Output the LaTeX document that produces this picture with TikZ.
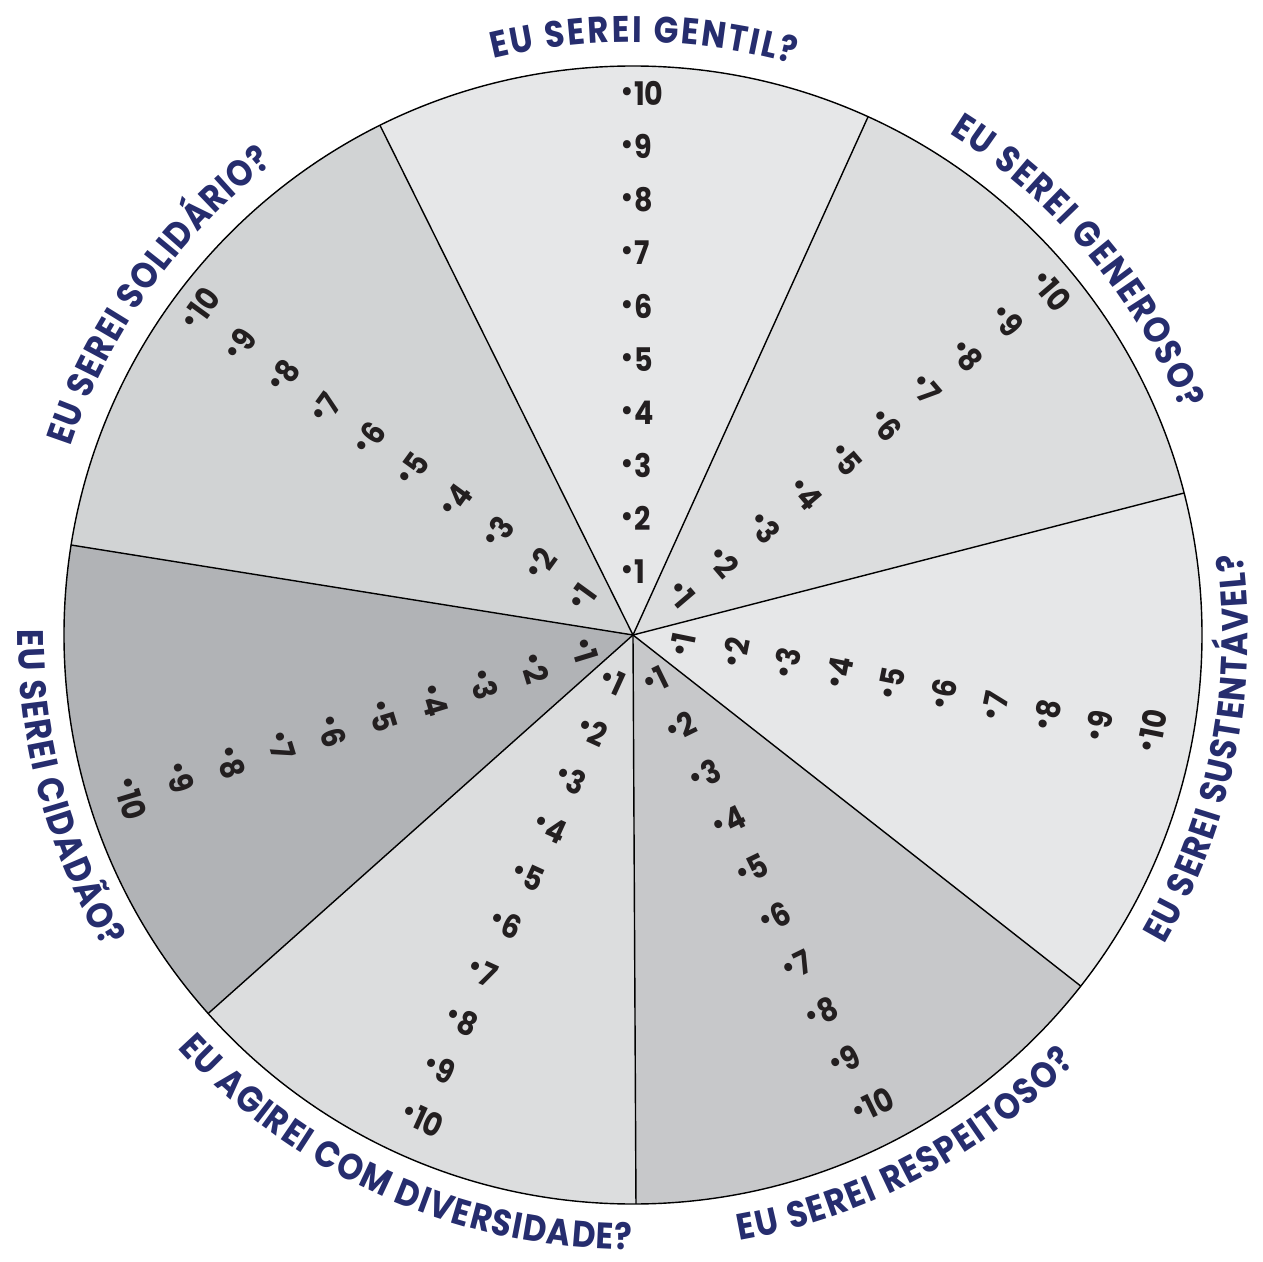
\documentclass[tikz,border=0pt]{standalone}
\usepackage{fontspec}
\usetikzlibrary{decorations.text}
\newfontfamily\labfont{Poppins}[FakeStretch=0.88]
\definecolor{navy}{RGB}{38,45,110}
\definecolor{ink}{RGB}{35,31,32}
\definecolor{gA}{HTML}{E6E7E8}
\definecolor{gB}{HTML}{DCDDDE}
\definecolor{gC}{HTML}{D1D3D4}
\definecolor{gD}{HTML}{C7C8CA}
\definecolor{gE}{HTML}{B1B3B6}
\newcommand{\numdot}{\scalebox{1.35}{·}\kern0.04em}
\begin{document}
\begin{tikzpicture}[x=0.02cm,y=0.02cm,
  sectorline/.style={line width=0.8pt, draw=black},
  numlabel/.style={font=\labfont\bfseries\fontsize{18.5pt}{20pt}\selectfont, text=ink, inner sep=0pt, anchor=west, transform shape},
  labtext/.style={decorate, decoration={text along path, text align={fit to path}, text color=navy,
     text={|\labfont\bfseries\fontsize{21pt}{23pt}\selectfont|#1}}}
  ]
\useasboundingbox (-633,-626) rectangle (630,635);
\fill[white] (-633,-626) rectangle (630,635);
\coordinate (c) at (0,0);
\def\R{569}
% sector boundaries
\coordinate (b1) at (116.4:\R);
\coordinate (b2) at (65.6:\R);
\coordinate (b3) at (14.45:\R);
\coordinate (b4) at (-38.1:\R);
\coordinate (b5) at (-89.7:\R);
\coordinate (b6) at (-138.3:\R);
\coordinate (b7) at (170.9:\R);
% sectors
\fill[gA] (c) -- (b2) arc[start angle=65.6, end angle=116.4, radius=\R] -- cycle;
\fill[gB] (c) -- (b3) arc[start angle=14.45, end angle=65.6, radius=\R] -- cycle;
\fill[gA] (c) -- (b4) arc[start angle=-38.1, end angle=14.45, radius=\R] -- cycle;
\fill[gD] (c) -- (b5) arc[start angle=-89.7, end angle=-38.1, radius=\R] -- cycle;
\fill[gB] (c) -- (b6) arc[start angle=-138.3, end angle=-89.7, radius=\R] -- cycle;
\fill[gE] (c) -- (b7) arc[start angle=170.9, end angle=221.7, radius=\R] -- cycle;
\fill[gC] (c) -- (b1) arc[start angle=116.4, end angle=170.9, radius=\R] -- cycle;
% lines
\foreach \b in {b1,b2,b3,b4,b5,b6,b7} \draw[sectorline] (c) -- (\b);
\draw[sectorline] (c) circle[radius=\R];
% numbers, upper half
\foreach \nm/\th in {gentil/90, generoso/40.5, solidario/144} {
  \begin{scope}[rotate=\th-90]
    \foreach \k in {1,...,10}
      \node[numlabel] (n-\nm-\k) at (-12, {63+53.2*(\k-1)}) {\numdot\k};
  \end{scope}
}
% numbers, lower half
\foreach \nm/\th in {sustentavel/-11.5, respeitoso/-64, diversidade/-114.5, cidadao/197} {
  \begin{scope}[rotate=\th+90]
    \foreach \k in {1,...,10}
      \node[numlabel] (n-\nm-\k) at (-12, {-(51+53*(\k-1))}) {\numdot\k};
  \end{scope}
}
% labels
\path[labtext={EU SEREI GENTIL?}] (103.6:593) arc[start angle=103.6, end angle=74.3, radius=593];
\path[labtext={EU SEREI GENEROSO?}] (57.8:593) arc[start angle=57.8, end angle=22.3, radius=593];
\path[labtext={EU SEREI SOLIDÁRIO?}] (161.5:593) arc[start angle=161.5, end angle=127.4, radius=593];
\path[labtext={EU SEREI SUSTENTÁVEL?}] (-30.2:615) arc[start angle=-30.2, end angle=7.6, radius=615];
\path[labtext={EU SEREI RESPEITOSO?}] (-80:615) arc[start angle=-80, end angle=-44, radius=615];
\path[labtext={EU AGIREI COM DIVERSIDADE?}] (222.2:615) arc[start angle=222.2, end angle=269.9, radius=615];
\path[labtext={EU SEREI CIDADÃO?}] (179.5:615) arc[start angle=179.5, end angle=210.7, radius=615];
\end{tikzpicture}
\end{document}
